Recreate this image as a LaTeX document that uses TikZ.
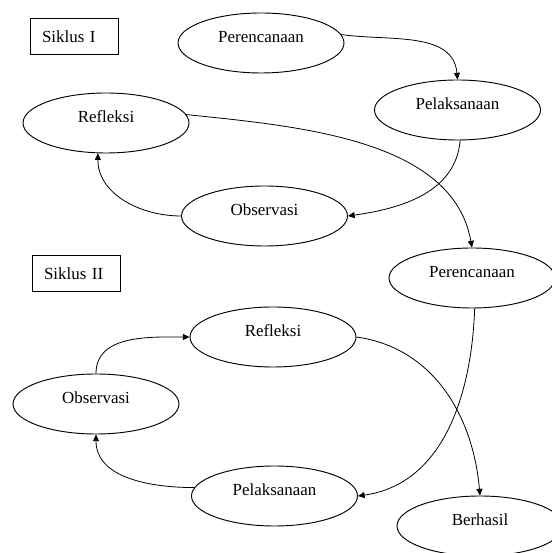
\documentclass[tikz,border=0pt]{standalone}
\usepackage{fontspec}
\setmainfont{Liberation Serif}
\usetikzlibrary{arrows.meta,shapes.geometric}

\begin{document}
\begin{tikzpicture}[
  x=0.75pt, y=0.75pt, >={Triangle[length=5pt,width=4.5pt]},
  font=\fontsize{12.7}{15}\selectfont,
  tahap/.style={draw, ellipse, line width=0.7pt, minimum width=124.5pt,
    minimum height=45pt, inner sep=0pt, text height=8pt, text depth=8pt},
  siklus/.style={draw, rectangle, line width=0.6pt, minimum height=27pt,
    text width=48pt, inner xsep=9pt, align=left},
  alur/.style={->, line width=0.6pt}
]
\useasboundingbox (0,0) rectangle (551,553);

% Siklus I
\node[siklus] (sik1) at (74,516.5) {Siklus I};
\node[tahap] (per1) at (261,510) {Perencanaan};
\node[tahap] (pel1) at (457.5,443) {Pelaksanaan};
\node[tahap] (obs1) at (264.5,337) {Observasi};
\node[tahap] (ref1) at (106,430) {Refleksi};

% Siklus II
\node[siklus] (sik2) at (76,279.5) {Siklus II};
\node[tahap] (per2) at (472,275) {Perencanaan};
\node[tahap] (pel2) at (274.5,57) {Pelaksanaan};
\node[tahap] (obs2) at (96,149) {Observasi};
\node[tahap] (ref2) at (273,216) {Refleksi};
\node[tahap] (ber) at (480,27) {Berhasil};

\draw[alur] (per1.6) to[out=-8,in=95] (pel1.north);
\draw[alur] (pel1.-85) to[out=-95,in=8] (obs1.east);
\draw[alur] (obs1.west) to[out=180,in=-90] (ref1.255);
\draw[alur] (ref1.6) to[out=-6,in=100,looseness=0.9] (per2.north);

\draw[alur] (per2.-85) to[out=-92,in=8] (pel2.east);
\draw[alur] (pel2.174) to[out=180,in=-90] (obs2.south);
\draw[alur] (obs2.north) to[out=90,in=180] (ref2.west);
\draw[alur] (ref2.east) to[out=-8,in=95] (ber.north);
\end{tikzpicture}
\end{document}
